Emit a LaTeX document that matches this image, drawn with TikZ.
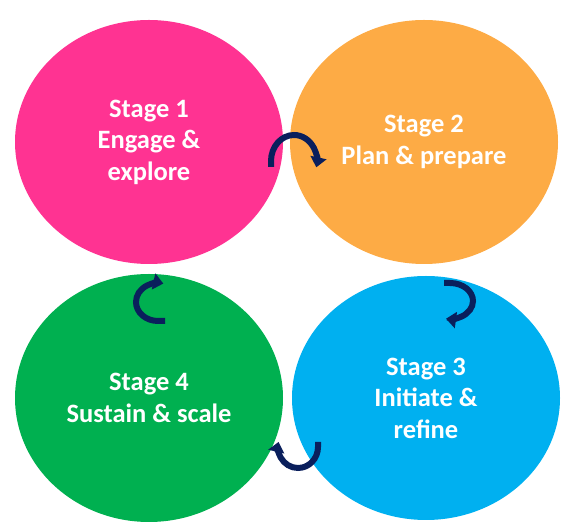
\documentclass[tikz,border=0pt]{standalone}
\usepackage{fontspec}
\setmainfont{Carlito}
\usetikzlibrary{shapes.geometric,arrows.meta}
\definecolor{cpink}{HTML}{FF3392}
\definecolor{corange}{HTML}{FDAB45}
\definecolor{cgreen}{HTML}{00B050}
\definecolor{cblue}{HTML}{00B0F0}
\definecolor{cnavy}{HTML}{0A1F5C}
\tikzset{
  stage/.style={ellipse, minimum width=268pt, minimum height=244pt, inner sep=0pt,
    text=white, align=center, font=\fontsize{26.5}{31.5}\selectfont\bfseries},
  cyc/.style={draw=cnavy, line width=6pt, -{Triangle[width=16pt,length=10pt]}}
}
\begin{document}
\begin{tikzpicture}[x=1pt,y=1pt]
\useasboundingbox (0,0) rectangle (568,527);
\node[stage, fill=cpink] (s1) at (149,385) {Stage 1\\Engage \&\\explore};
\node[stage, fill=corange] (s2) at (424,385) {Stage 2\\Plan \& prepare};
\node[stage, fill=cblue, minimum height=244pt] (s3) at (426,129) {Stage 3\\Initiate \&\\refine};
\node[stage, fill=cgreen, minimum height=248pt] (s4) at (149,129) {Stage 4\\Sustain \& scale};
% cycle arrows
\coordinate (a12) at (271,360);
\coordinate (a23) at (444,244);
\coordinate (a34) at (318,85);
\coordinate (a41) at (165,206);
\draw[cyc] (a12) -- ++(0,6) arc[start angle=180,end angle=-14,x radius=23,y radius=26];
\draw[cyc] (a23) -- ++(6,0) arc[start angle=90,end angle=-100,x radius=23,y radius=18];
\draw[cyc] (a34) -- ++(0,-5) arc[start angle=0,end angle=-194,x radius=20,y radius=21];
\draw[cyc] (a41) -- ++(-7,0) arc[start angle=270,end angle=76,x radius=22,y radius=19];
\end{tikzpicture}
\end{document}
